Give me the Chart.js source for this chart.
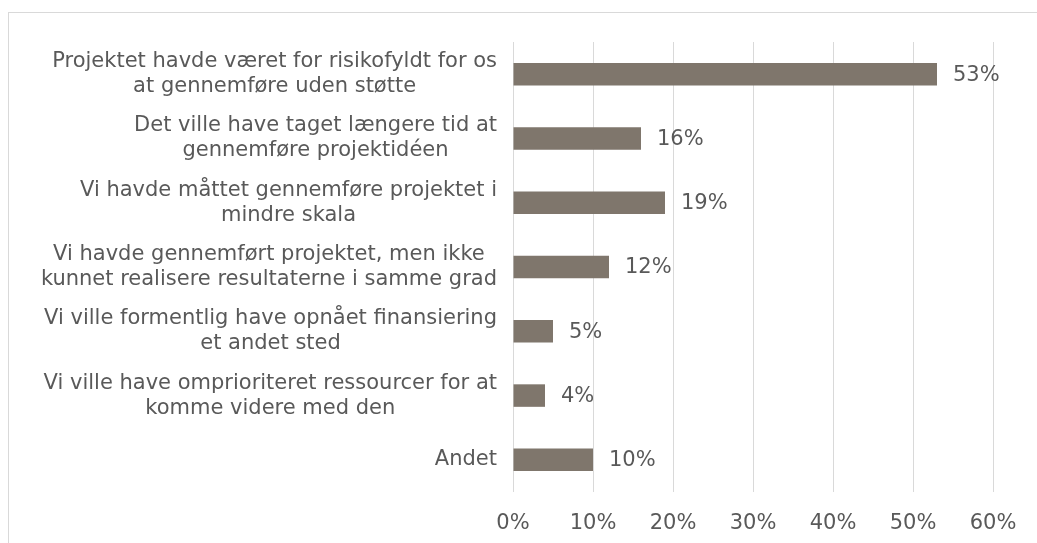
<!DOCTYPE html>
<html>
<head>
<meta charset="utf-8">
<script src="https://cdn.jsdelivr.net/npm/chart.js@4/dist/chart.umd.min.js"></script>
<style>
  html, body { margin: 0; padding: 0; background: #fff; overflow: hidden; }
  #c { display: block; }
</style>
</head>
<body>
<canvas id="c" width="1037" height="543"></canvas>
<script>
// kategorier (flere linjer pr. label)
const labels = [
  ['Projektet havde været for risikofyldt for os', 'at gennemføre uden støtte'],
  ['Det ville have taget længere tid at', 'gennemføre projektidéen'],
  ['Vi havde måttet gennemføre projektet i', 'mindre skala'],
  ['Vi havde gennemført projektet, men ikke', 'kunnet realisere resultaterne i samme grad'],
  ['Vi ville formentlig have opnået finansiering', 'et andet sted'],
  ['Vi ville have omprioriteret ressourcer for at', 'komme videre med den'],
  ['Andet']
];
const values = [53, 16, 19, 12, 5, 4, 10];
const xTicks = [0, 10, 20, 30, 40, 50, 60];

const FONT = 'DejaVu Sans, Verdana, sans-serif';
const SIZE = 21;
const TXT = '#595959';

// ramme om diagrammet
const frame = {
  id: 'frame',
  beforeDraw(chart) {
    const ctx = chart.ctx;
    ctx.save();
    ctx.strokeStyle = '#d9d9d9';
    ctx.lineWidth = 1;
    ctx.strokeRect(8.5, 12.5, 1100, 600);
    ctx.restore();
  }
};

// tegner labels paa y-aksen, centreret i blokken og hoejrestillet
const catLabels = {
  id: 'catLabels',
  afterDraw(chart) {
    const ctx = chart.ctx;
    const y = chart.scales.y;
    const right = chart.chartArea.left - 16;
    const lh = 25;
    ctx.save();
    ctx.font = SIZE + 'px ' + FONT;
    ctx.fillStyle = TXT;
    ctx.textAlign = 'center';
    ctx.textBaseline = 'middle';
    labels.forEach((lines, i) => {
      let w = 0;
      lines.forEach(l => { w = Math.max(w, ctx.measureText(l).width); });
      const cx = right - w / 2;
      const cy = y.getPixelForValue(i);
      lines.forEach((l, j) => {
        ctx.fillText(l, cx, cy + (j - (lines.length - 1) / 2) * lh);
      });
    });
    ctx.restore();
  }
};

// procent-labels ved bjaelkerne
const valLabels = {
  id: 'valLabels',
  afterDatasetsDraw(chart) {
    const ctx = chart.ctx;
    const meta = chart.getDatasetMeta(0);
    ctx.save();
    ctx.font = SIZE + 'px ' + FONT;
    ctx.fillStyle = TXT;
    ctx.textAlign = 'left';
    ctx.textBaseline = 'middle';
    meta.data.forEach((bar, i) => {
      ctx.fillText(values[i] + '%', bar.x + 16, bar.y + 1);
    });
    ctx.restore();
  }
};

new Chart(document.getElementById('c'), {
  type: 'bar',
  data: {
    labels: labels.map(l => l.join(' ')),
    datasets: [{
      data: values,
      backgroundColor: '#7f766c',
      categoryPercentage: 1,
      barPercentage: 0.35
    }]
  },
  options: {
    indexAxis: 'y',
    responsive: false,
    animation: false,
    layout: { padding: { left: 513, right: 44, top: 42, bottom: 0 } },
    plugins: { legend: { display: false }, tooltip: { enabled: false } },
    scales: {
      x: {
        min: 0,
        max: 60,
        afterBuildTicks(scale) { scale.ticks = xTicks.map(v => ({ value: v })); },
        afterFit(scale) { scale.height = 51; },
        grid: { color: '#d9d9d9', lineWidth: 1, drawTicks: false },
        border: { display: false },
        ticks: {
          callback: v => v + '%',
          color: TXT,
          font: { family: FONT, size: SIZE },
          padding: 19
        }
      },
      y: { display: false }
    }
  },
  plugins: [frame, catLabels, valLabels]
});
</script>
</body>
</html>
